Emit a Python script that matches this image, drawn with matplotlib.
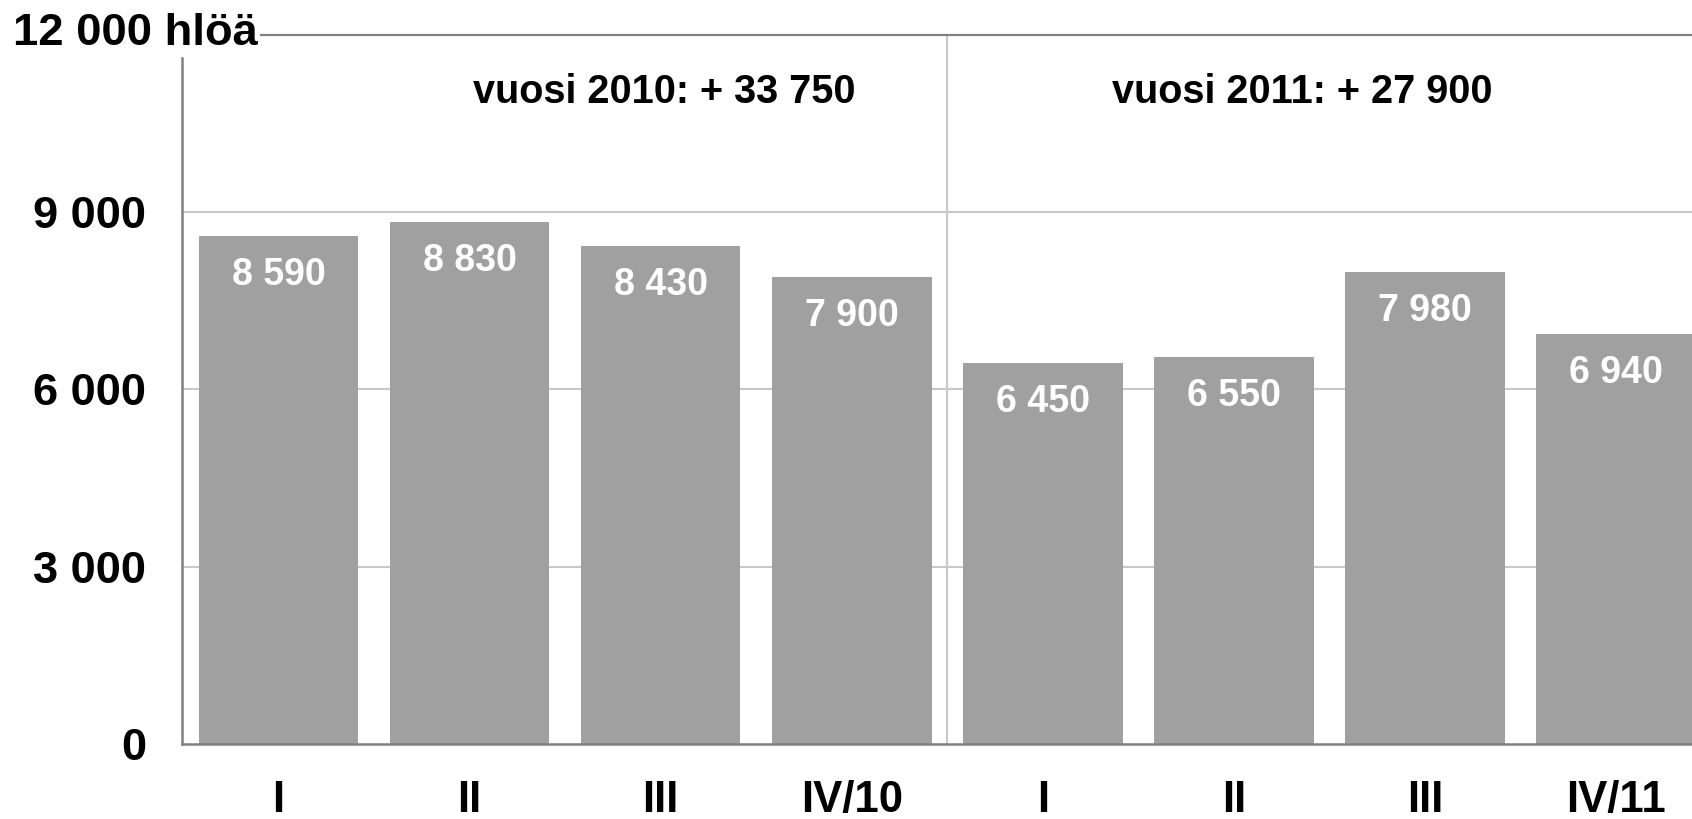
import matplotlib
matplotlib.use("Agg")
import matplotlib.pyplot as plt

plt.rcParams['font.family'] = ['Liberation Sans', 'DejaVu Sans']

quarters = ["I", "II", "III", "IV/10", "I", "II", "III", "IV/11"]
values = [8590, 8830, 8430, 7900, 6450, 6550, 7980, 6940]
value_labels = ["8 590", "8 830", "8 430", "7 900", "6 450", "6 550", "7 980", "6 940"]
y_ticks = [0, 3000, 6000, 9000]
y_tick_labels = ["0", "3 000", "6 000", "9 000"]
top_label = "12 000 hlöä"
year_notes = ["vuosi 2010: + 33 750", "vuosi 2011: + 27 900"]
note_x = [2.02, 5.36]

W, H = 1692, 819
fig = plt.figure(figsize=(W / 100, H / 100), dpi=100)
ax = fig.add_axes([182 / W, 75 / H, 1 - 182 / W, (784.2 - 75) / H])

bar_color = "#a0a0a0"
grid_color = "#c8c8c8"
spine_color = "#808080"

x_left, x_right = -0.5045, 7.397

x = list(range(len(values)))
ax.bar(x, values, width=0.836, color=bar_color, zorder=2)

ax.set_xlim(x_left, x_right)
ax.set_ylim(0, 12000)

# horizontal grid behind the bars
for yv in y_ticks[1:]:
    ax.axhline(yv, color=grid_color, lw=1.5, zorder=1)
# top line at 12 000, starting after the unit label
ax.plot([-0.09, x_right], [12000, 12000], color=spine_color, lw=1.6, zorder=3, clip_on=False)
# separator between the years
ax.plot([3.5, 3.5], [0, 12000], color=grid_color, lw=1.5, zorder=1, clip_on=False)

for s in ["top", "right"]:
    ax.spines[s].set_visible(False)
ax.spines["left"].set_bounds(0, 11600)
for s in ["left", "bottom"]:
    ax.spines[s].set_color(spine_color)
    ax.spines[s].set_linewidth(1.8)
    ax.spines[s].set_zorder(4)

ax.set_yticks(y_ticks)
ax.set_yticklabels(y_tick_labels, fontsize=32.5, fontweight="bold")
ax.set_xticks(x)
ax.set_xticklabels(quarters, fontsize=31.5, fontweight="bold")
ax.tick_params(axis="y", length=0, pad=26)
ax.tick_params(axis="x", length=0, pad=26)

for xi, v, lab in zip(x, values, value_labels):
    ax.annotate(lab, (xi, v), xytext=(0, -39), textcoords="offset pixels",
                ha="center", va="center", color="white", fontsize=27,
                fontweight="bold", zorder=5)

for nx, note in zip(note_x, year_notes):
    ax.annotate(note, (nx, 12000), xytext=(0, -57), textcoords="offset pixels",
                ha="center", va="center", fontsize=28.5, fontweight="bold", zorder=5)

fig.text(13 / W, (H - 45) / H, top_label, ha="left", va="baseline",
         fontsize=32.7, fontweight="bold")

fig.savefig("out.png", dpi=100, facecolor="white")
